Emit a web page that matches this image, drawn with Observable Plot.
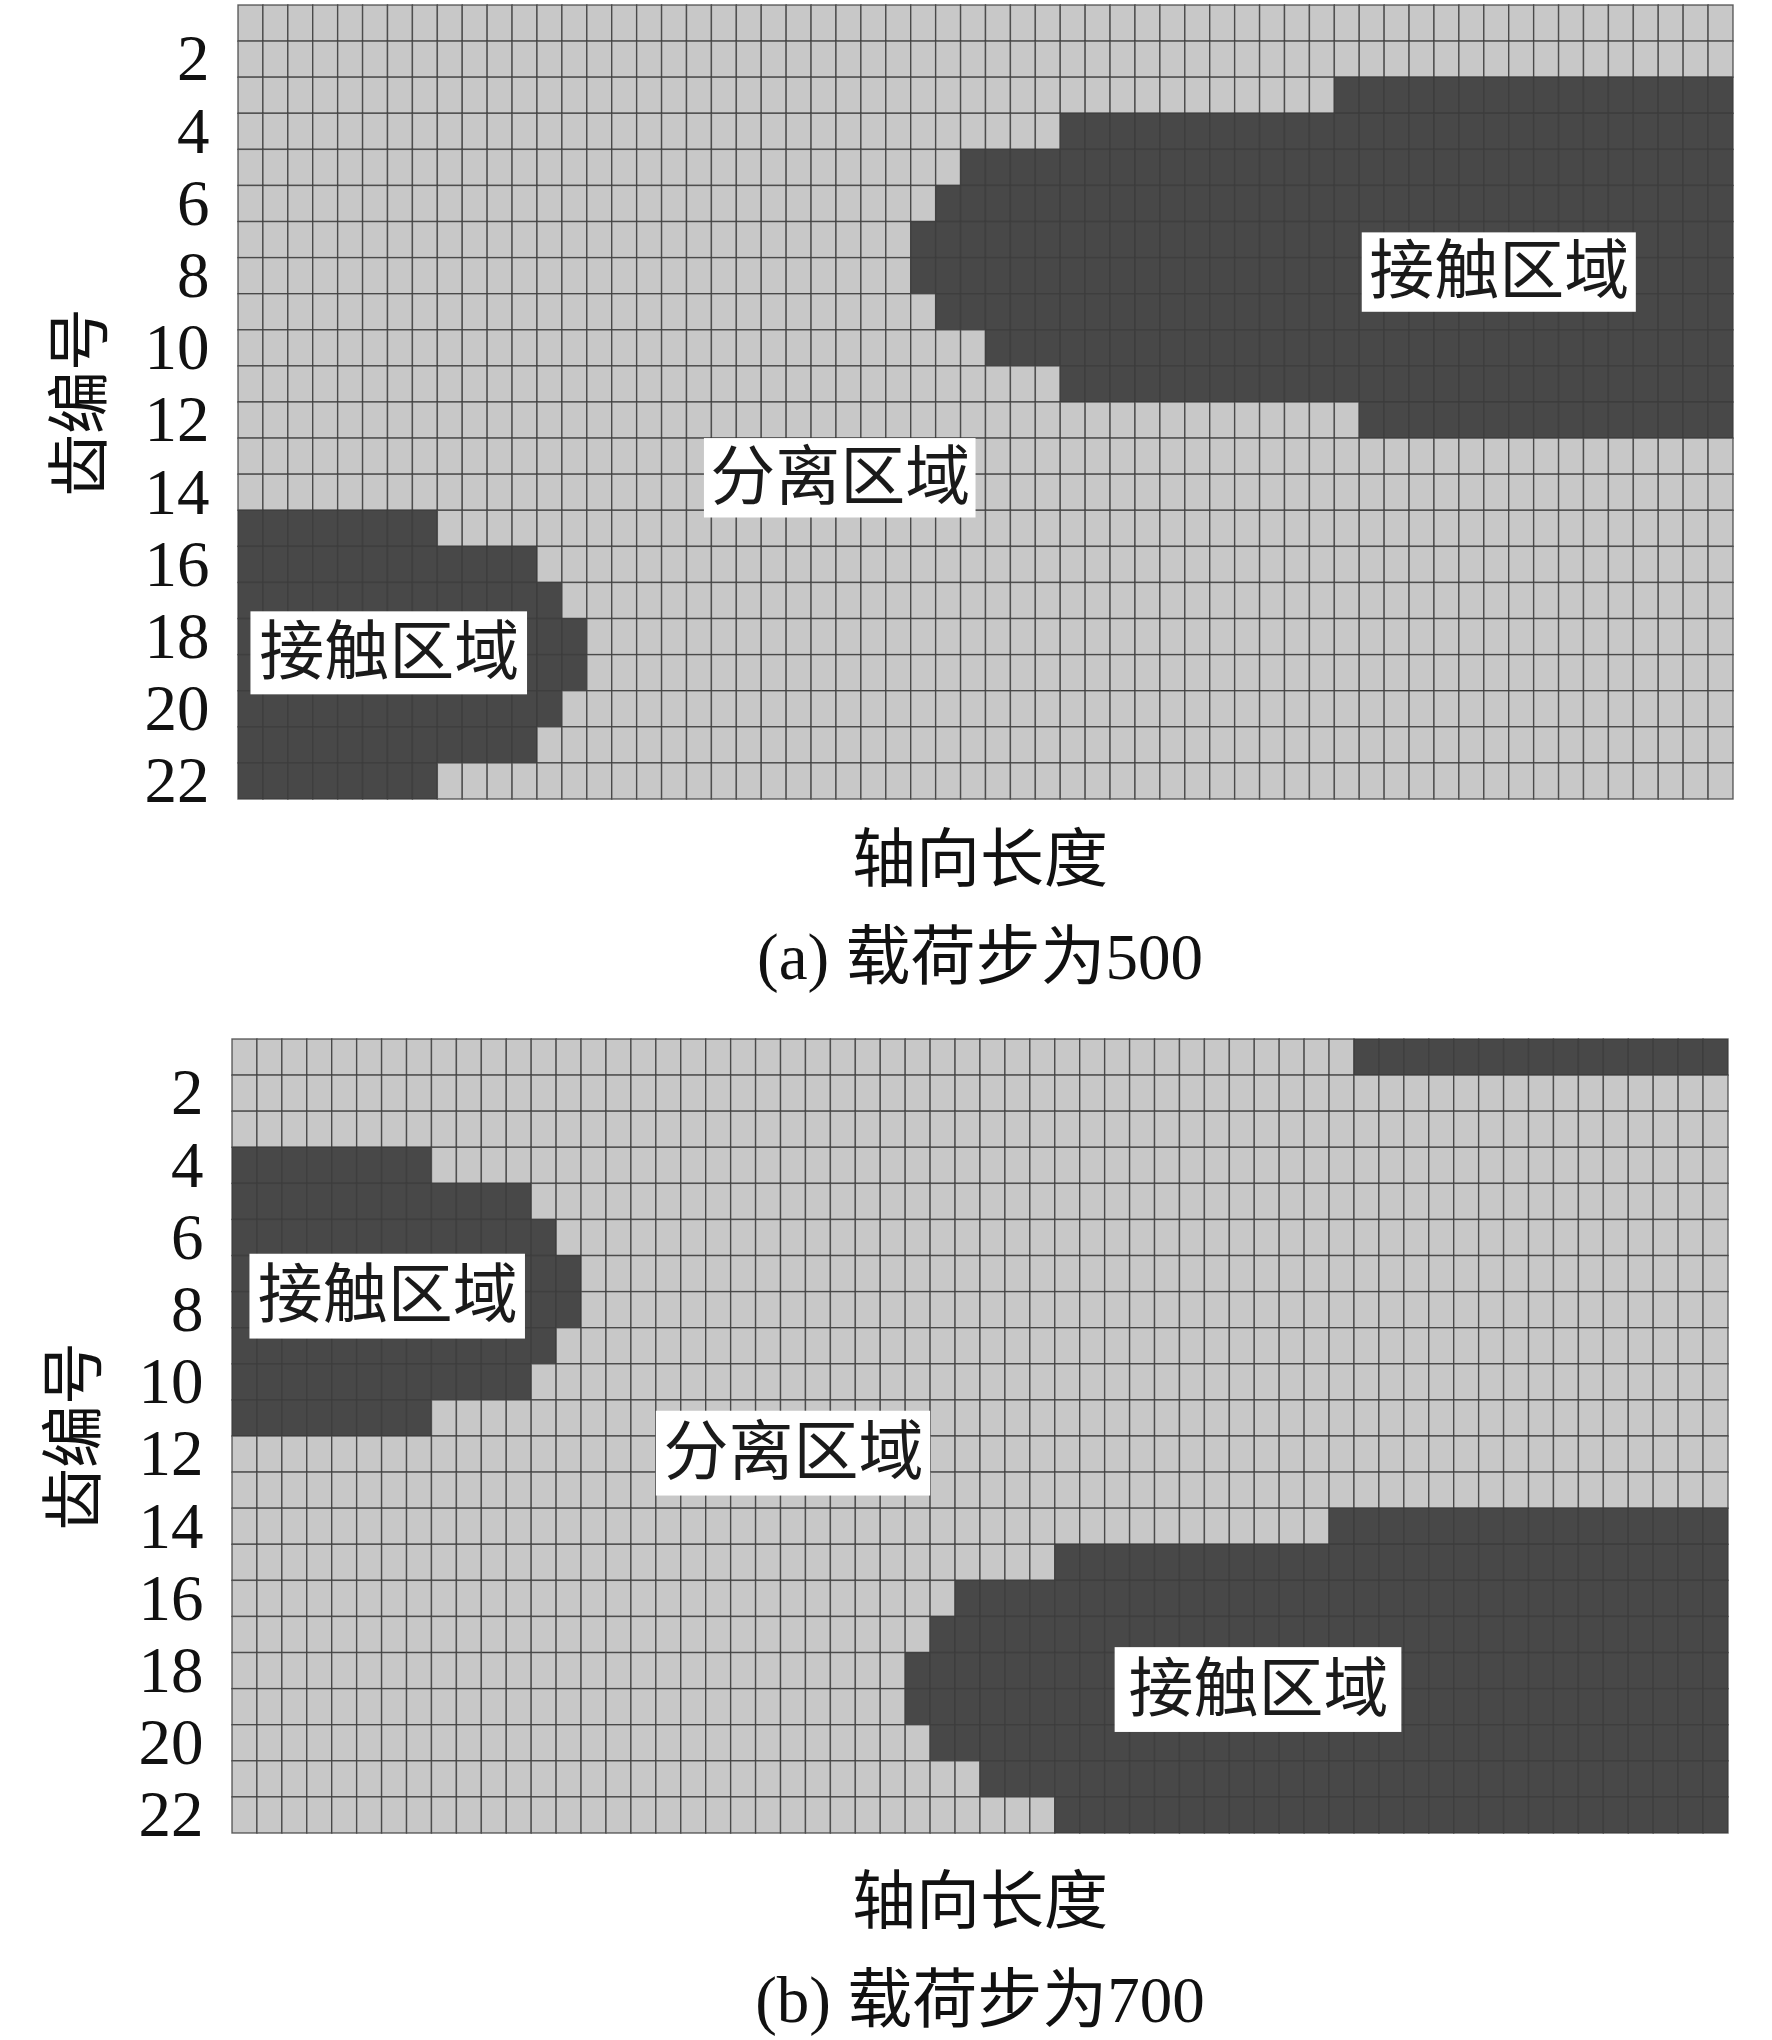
<!DOCTYPE html>
<html>
<head>
<meta charset="utf-8">
<script src="https://cdn.jsdelivr.net/npm/d3@7"></script>
<script src="https://cdn.jsdelivr.net/npm/@observablehq/plot@0.6"></script>
<style>
  html, body { margin: 0; padding: 0; background: #fff; }
  #page { position: relative; width: 1772px; height: 2040px; overflow: hidden; }
  .panel { position: absolute; left: 0; }
  .lbl { position: absolute; transform: translate(-50%, -50%); white-space: nowrap;
         font-family: "Liberation Serif", "Noto Sans CJK SC", serif; color: #111; line-height: 1; }
</style>
</head>
<body>
<div id="page"></div>
<script>
// ---- data ----
const nCols = 60;            // axial length cells
const nRows = 22;            // tooth numbers
const toothTicks = [2, 4, 6, 8, 10, 12, 14, 16, 18, 20, 22];

// panel (a) load step 500: number of contact cells counted from the left / from the right, per tooth 1..22
const leftContactA  = [0,0,0,0,0,0,0,0,0,0,0,0,0,0,8,12,13,14,14,13,12,8];
const rightContactA = [0,0,16,27,31,32,33,33,32,30,27,15,0,0,0,0,0,0,0,0,0,0];
// panel (b) load step 700
const leftContactB  = [0,0,0,8,12,13,14,14,13,12,8,0,0,0,0,0,0,0,0,0,0,0];
const rightContactB = [15,0,0,0,0,0,0,0,0,0,0,0,0,16,27,31,32,33,33,32,30,27];

// region labels: [text, x1, x2, y1, y2] in cell units (x: column, y: row from top)
const regionLabelsA = [
  ["接触区域", 45.1, 56.1, 6.3, 8.5],
  ["分离区域", 18.7, 29.6, 12.0, 14.2],
  ["接触区域", 0.5, 11.6, 16.8, 19.1]
];
const regionLabelsB = [
  ["接触区域", 0.7, 11.75, 5.95, 8.3],
  ["分离区域", 17.0, 28.0, 10.3, 12.65],
  ["接触区域", 35.4, 46.9, 16.85, 19.2]
];

const captionA = "(a) 载荷步为500";
const captionB = "(b) 载荷步为700";
const xTitle = "轴向长度";
const yTitle = "齿编号";

const colorContact = "#484848";
const colorSeparate = "#c8c8c8";

// ---- build ----
function cells(leftLen, rightLen) {
  const out = [];
  for (let r = 1; r <= nRows; r++) {
    for (let c = 1; c <= nCols; c++) {
      const contact = c <= leftLen[r - 1] || c > nCols - rightLen[r - 1];
      out.push({row: r, col: c, contact});
    }
  }
  return out;
}

function panel(leftLen, rightLen, labels, m) {
  const data = cells(leftLen, rightLen);
  const lab = labels.map(([text, x1, x2, y1, y2]) => ({text, x1, x2, y1, y2}));
  return Plot.plot({
    width: 1772,
    height: m.height,
    marginLeft: m.left,
    marginRight: m.right,
    marginTop: m.top,
    marginBottom: m.bottom,
    x: {domain: [0, nCols], axis: null},
    y: {domain: [0, nRows], reverse: true, axis: null},
    style: {fontFamily: "'Liberation Serif', 'Noto Sans CJK SC', serif", fontSize: "65px", color: "#111", background: "transparent"},
    marks: [
      Plot.rect(data, {
        x1: d => d.col - 1, x2: d => d.col,
        y1: d => d.row - 1, y2: d => d.row,
        fill: d => d.contact ? colorContact : colorSeparate,
        stroke: "#3c3c3c", strokeWidth: 1.4, strokeOpacity: 0.8
      }),
      Plot.axisY({
        ticks: toothTicks.map(t => t - 0.5),
        tickFormat: d => String(d + 0.5),
        tickSize: 0, tickPadding: 29, label: null,
        fontSize: 65, fontFamily: "'Liberation Serif', serif", fill: "#111"
      }),
      Plot.text([yTitle], {
        frameAnchor: "left", textAnchor: "middle", dx: -158, rotate: -90,
        fontSize: 63, fontFamily: "'Noto Sans CJK SC', sans-serif", fill: "#111"
      }),
      Plot.rect(lab, {x1: "x1", x2: "x2", y1: "y1", y2: "y2", fill: "white"}),
      Plot.text(lab, {
        x: d => (d.x1 + d.x2) / 2, y: d => (d.y1 + d.y2) / 2, text: "text",
        fontSize: 65, fontFamily: "'Noto Sans CJK SC', sans-serif", fill: "#1a1a1a"
      })
    ]
  });
}

const page = document.getElementById("page");

const svgA = panel(leftContactA, rightContactA, regionLabelsA, {height: 830, left: 238, right: 39, top: 5, bottom: 31});
svgA.classList.add("panel");
svgA.style.top = "0px";
page.appendChild(svgA);

const svgB = panel(leftContactB, rightContactB, regionLabelsB, {height: 863, left: 232, right: 44, top: 39, bottom: 30});
svgB.classList.add("panel");
svgB.style.top = "1000px";
page.appendChild(svgB);

function addLabel(text, cx, cy, size) {
  const d = document.createElement("div");
  d.className = "lbl";
  d.textContent = text;
  d.style.left = cx + "px";
  d.style.top = cy + "px";
  d.style.fontSize = size + "px";
  page.appendChild(d);
}
addLabel(xTitle, 980, 860, 64);
addLabel(captionA, 980, 957, 65);
addLabel(xTitle, 980, 1902, 64);
addLabel(captionB, 980, 2000, 65);
</script>
</body>
</html>
